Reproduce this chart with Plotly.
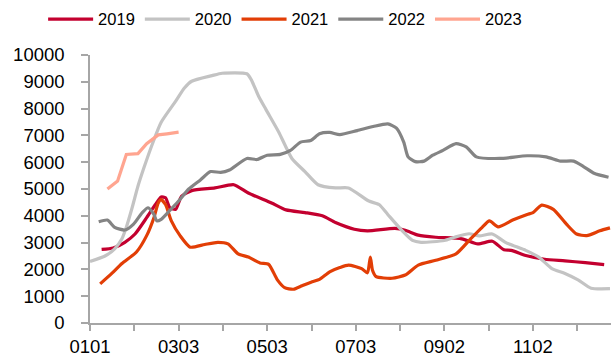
import plotly.graph_objects as go

# Day offsets from 1 Jan and values for each year
days_2019 = [8, 16, 24, 31, 39, 45, 49, 52, 55, 59, 63, 70, 86, 99, 109, 125, 135, 148, 160, 169,
             182, 191, 210, 217, 226, 238, 256, 267, 277, 285, 290, 300, 313, 327, 341, 354]
vals_2019 = [2745, 2800, 3010, 3320, 3930, 4420, 4700, 4670, 4300, 4240, 4730, 4940, 5040, 5160, 4850,
             4480, 4220, 4120, 4000, 3750, 3500, 3440, 3530, 3460, 3280, 3200, 3140, 2950, 3050, 2730,
             2710, 2520, 2380, 2320, 2250, 2180]

days_2020 = [0, 10, 17, 22, 25, 29, 33, 37, 43, 49, 59, 65, 70, 84, 91, 108, 111, 116, 121, 130,
             139, 148, 157, 169, 178, 192, 199, 205, 215, 222, 228, 244, 251, 261, 268, 277, 286,
             300, 309, 318, 327, 336, 345, 358]
vals_2020 = [2300, 2490, 2770, 3140, 3570, 4300, 5100, 5770, 6690, 7490, 8280, 8770, 9020, 9230, 9320,
             9300, 9080, 8470, 7980, 7120, 6140, 5650, 5160, 5040, 5040, 4550, 4420, 4050, 3440, 3080,
             3010, 3080, 3200, 3330, 3250, 3320, 3010, 2710, 2460, 2030, 1850, 1610, 1300, 1280]

days_2021 = [7, 15, 22, 32, 39, 44, 47, 49, 52, 56, 62, 69, 79, 88, 95, 102, 109, 117, 123, 129,
             134, 140, 146, 153, 158, 165, 172, 178, 187, 191, 193, 194.5, 197, 208, 217, 226, 238,
             252, 262, 270, 275, 281, 291, 301, 305, 311, 319, 328, 335, 342, 351, 358]
vals_2021 = [1460, 1850, 2220, 2650, 3260, 3930, 4480, 4600, 4420, 3810, 3260, 2830, 2930, 3010, 2950,
             2580, 2460, 2240, 2190, 1610, 1320, 1260, 1390, 1540, 1630, 1910, 2070, 2160, 2030, 1870,
             2460, 1970, 1730, 1670, 1790, 2160, 2340, 2580, 3140, 3570, 3810, 3590, 3840, 4050, 4120,
             4400, 4240, 3690, 3320, 3260, 3440, 3550]

days_2022 = [6, 12, 17, 24, 30, 36, 40, 44, 46, 49, 55, 61, 68, 76, 83, 90, 96, 108, 115, 122, 131,
             138, 145, 152, 158, 165, 172, 184, 195, 205, 211, 216, 219, 224, 230, 236, 243, 252, 259,
             266, 282, 301, 314, 324, 333, 340, 347, 357]
vals_2022 = [3780, 3840, 3570, 3470, 3690, 4120, 4300, 4050, 3810, 3870, 4200, 4550, 5000, 5340, 5650,
             5620, 5710, 6140, 6100, 6260, 6290, 6440, 6750, 6810, 7060, 7110, 7030, 7180, 7330, 7430,
             7270, 6750, 6200, 6020, 6040, 6260, 6440, 6690, 6570, 6200, 6140, 6240, 6200, 6040, 6040,
             5830, 5590, 5440]

days_2023 = [12, 19, 25, 33, 39, 47, 53, 61]
vals_2023 = [5000, 5300, 6290, 6320, 6690, 7020, 7060, 7120]

# Axis ticks: a mark every half label interval, labels on every other mark
tick_days = [i * 30.5 for i in range(12)]
tick_text = ["0101", "", "0303", "", "0503", "", "0703", "", "0902", "", "1102", ""]
y_ticks = list(range(0, 10001, 1000))
y_tick_text = [str(v) for v in y_ticks]

series = [
    ("2019", days_2019, vals_2019, "#C3002F", "spline"),
    ("2020", days_2020, vals_2020, "#C3C3C3", "spline"),
    ("2021", days_2021, vals_2021, "#E23E06", "spline"),
    ("2022", days_2022, vals_2022, "#848484", "spline"),
    ("2023", days_2023, vals_2023, "#FFA590", "linear"),
]

fig = go.Figure()
for name, xs, ys, color, shape in series:
    line = dict(color=color, width=3.2, shape=shape)
    if shape == "spline":
        line["smoothing"] = 0.6
    fig.add_trace(go.Scatter(x=xs, y=ys, mode="lines", name=name, line=line))

axis_color = "#A6A6A6"
tick_font = dict(family="Liberation Sans, Arial, sans-serif", size=18.5, color="#000000")
legend_font = dict(family="Liberation Sans, Arial, sans-serif", size=16.5, color="#000000")

fig.update_layout(
    width=616,
    height=362,
    margin=dict(l=90, r=5, t=55, b=35),
    paper_bgcolor="white",
    plot_bgcolor="white",
    font=tick_font,
    showlegend=True,
    legend=dict(
        orientation="h",
        x=0.07, xref="container",
        y=0.995, yref="container",
        xanchor="left", yanchor="top",
        font=legend_font,
        itemwidth=45,
        tracegroupgap=0,
        bgcolor="rgba(0,0,0,0)",
    ),
    xaxis=dict(
        range=[0, 358.7],
        tickmode="array",
        tickvals=tick_days,
        ticktext=tick_text,
        ticks="outside",
        ticklen=6,
        tickwidth=1.5,
        tickcolor=axis_color,
        showline=True,
        linecolor=axis_color,
        linewidth=1.5,
        showgrid=False,
        zeroline=False,
        tickfont=tick_font,
    ),
    yaxis=dict(
        range=[0, 10000],
        tickmode="array",
        tickvals=y_ticks,
        ticktext=y_tick_text,
        ticks="outside",
        ticklen=7,
        tickwidth=1.5,
        tickcolor=axis_color,
        showline=True,
        linecolor=axis_color,
        linewidth=1.5,
        showgrid=False,
        zeroline=False,
        tickfont=tick_font,
        ticklabelstandoff=13,
    ),
)

fig.write_html("out.html")
